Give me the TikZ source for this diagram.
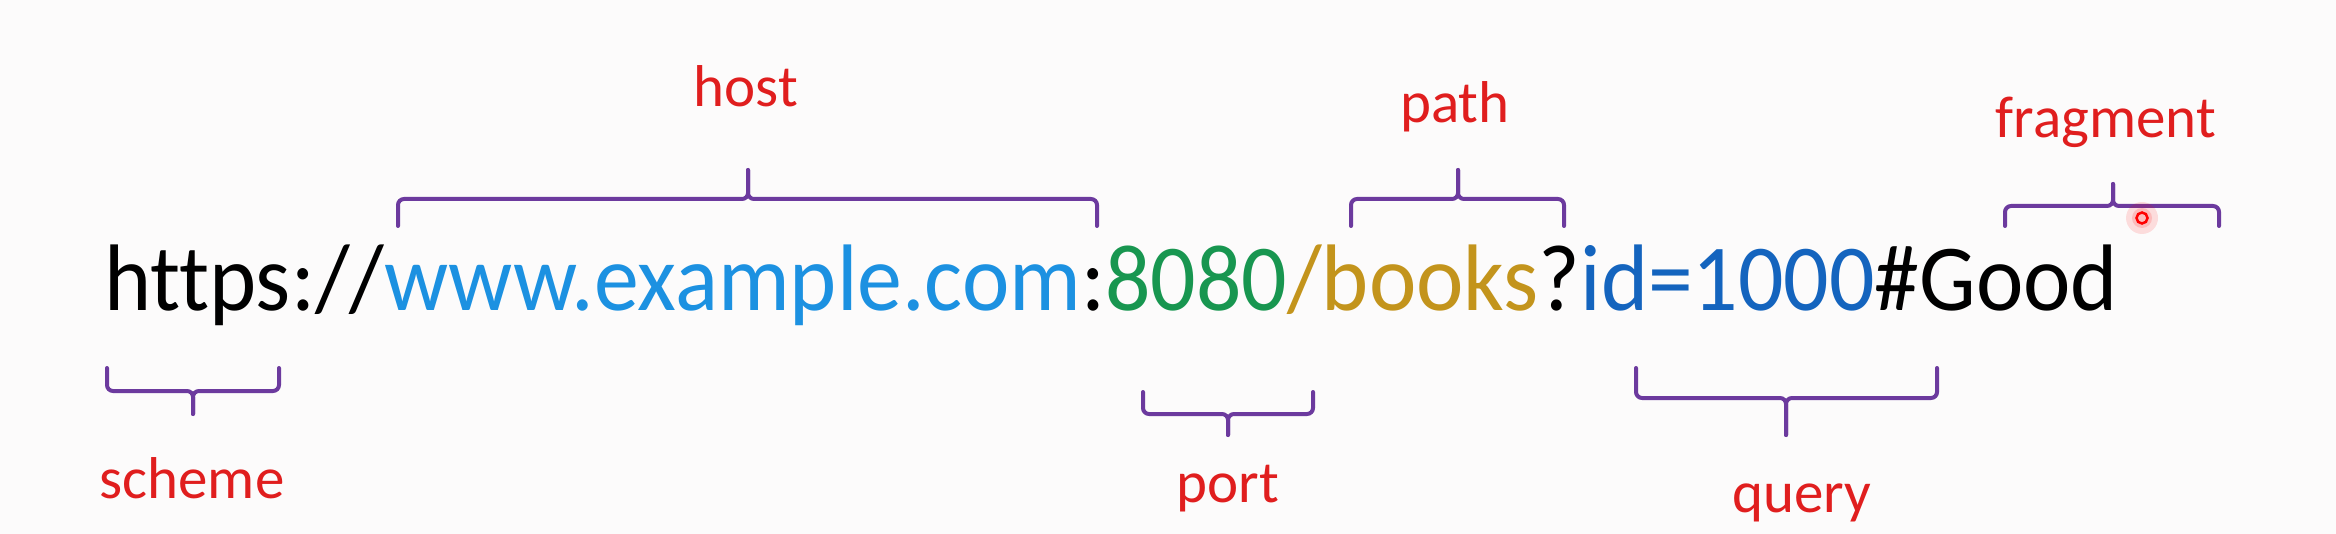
\documentclass[tikz,border=0pt]{standalone}
\usepackage{fontspec}
\setmainfont{Carlito}[Ligatures=NoCommon]
\newfontfamily\urlfont[FakeStretch=0.95,Ligatures=NoCommon]{Carlito}
\definecolor{bgcol}{RGB}{252,251,251}
\definecolor{hostblue}{RGB}{28,145,225}
\definecolor{portgreen}{RGB}{24,150,80}
\definecolor{pathgold}{RGB}{195,148,28}
\definecolor{queryblue}{RGB}{20,100,190}
\definecolor{brpurple}{RGB}{108,58,158}
\definecolor{lblred}{RGB}{224,30,30}
\tikzset{
  seg/.style={inner sep=0pt, outer sep=0pt, anchor=base west,
    font=\urlfont\fontsize{94.5}{100}\selectfont},
  lbl/.style={inner sep=0pt, outer sep=0pt, anchor=base, text=lblred,
    font=\fontsize{59}{64}\selectfont},
  bracket/.style={draw=brpurple, line width=4pt, line cap=round,
    line join=round, rounded corners=6pt},
}
% #1 left x, #2 right x, #3 end y, #4 bar y, #5 tip x, #6 tip y
\newcommand\urlbrace[6]{%
  \draw[bracket] (#1,#3) -- (#1,#4) -- (#5,#4) -- (#5,#6);
  \draw[bracket] (#5,#6) -- (#5,#4) -- (#2,#4) -- (#2,#3);
}
\begin{document}
\begin{tikzpicture}[x=1pt,y=-1pt]
\path[use as bounding box, fill=bgcol] (0,0) rectangle (2336,534);
% URL segments
\node[seg, text=black] (sch) at (104,310.6) {https://};
\node[seg, text=hostblue] (hst) at (sch.base east) {www.example.com};
\node[seg, text=black] (col) at (hst.base east) {:};
\node[seg, text=portgreen] (prt) at (col.base east) {8080};
\node[seg, text=pathgold] (pth) at (prt.base east) {/books};
\node[seg, text=black] (qm) at (pth.base east) {?};
\node[seg, text=queryblue] (qry) at (qm.base east) {id=1000};
\node[seg, text=black] (frg) at (qry.base east) {\#Good};
% labels
\node[lbl] (Lhost) at (746,107) {host};
\node[lbl] (Lpath) at (1455,123) {path};
\node[lbl] (Lfrag) at (2106,138) {fragment};
\node[lbl] (Lscheme) at (192,498) {scheme};
\node[lbl] (Lport) at (1228,502) {port};
\node[lbl] (Lquery) at (1802,512) {query};
% braces
\urlbrace{107}{279}{368}{391}{193}{414}
\urlbrace{398}{1097}{226}{199}{748}{170}
\urlbrace{1143}{1313}{392}{414}{1228}{435}
\urlbrace{1351}{1564}{226}{199}{1458}{170}
\urlbrace{1636}{1937}{368}{398}{1786}{435}
\urlbrace{2005}{2219}{226}{206}{2113}{184}
% pointer
\fill[red, opacity=0.12] (2142,218) circle (16);
\fill[red, opacity=0.15] (2142,218) circle (10);
\draw[red, line width=2.5pt] (2142,218) circle (5.5);
\end{tikzpicture}
\end{document}
